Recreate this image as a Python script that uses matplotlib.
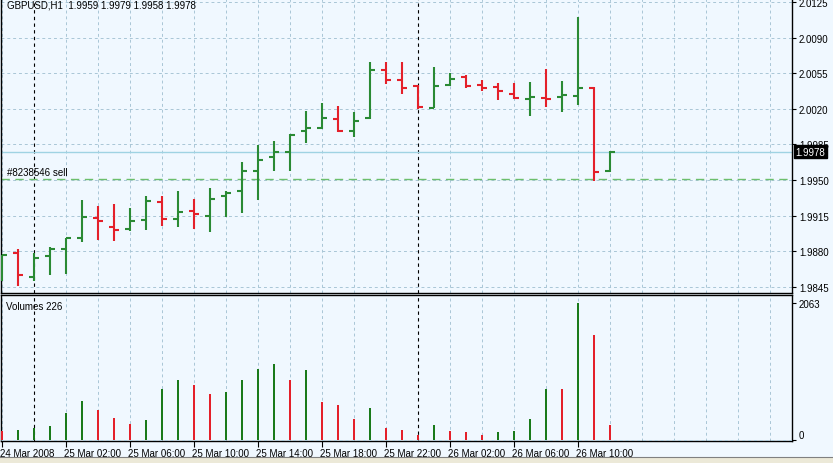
import matplotlib
matplotlib.use("Agg")
import matplotlib.pyplot as plt
import matplotlib.transforms as mtransforms

# GBPUSD H1 bars, 24 Mar 22:00 .. 26 Mar 12:00
opens = [1.9858, 1.9878, 1.9855, 1.9875, 1.9882, 1.9893, 1.9913, 1.9904, 1.9902, 1.9911,
         1.9928, 1.9912, 1.9920, 1.9915, 1.9934, 1.9939, 1.9959, 1.9973, 1.9978, 1.9998,
         2.0001, 2.0010, 1.9998, 2.0011, 2.0058, 2.0048, 2.0042, 2.0021, 2.0043, 2.0051,
         2.0043, 2.0041, 2.0035, 2.0030, 2.0031, 2.0032, 2.0033, 2.0040, 1.9959]
highs = [1.9876, 1.9882, 1.9878, 1.9884, 1.9893, 1.9930, 1.9925, 1.9927, 1.9923, 1.9934,
         1.9934, 1.9939, 1.9931, 1.9942, 1.9939, 1.9968, 1.9984, 1.9988, 1.9995, 2.0018,
         2.0026, 2.0023, 2.0017, 2.0066, 2.0066, 2.0066, 2.0043, 2.0061, 2.0055, 2.0053,
         2.0048, 2.0045, 2.0045, 2.0046, 2.0059, 2.0047, 2.0110, 2.0041, 1.9979]
lows = [1.9851, 1.9846, 1.9851, 1.9857, 1.9858, 1.9889, 1.9891, 1.9890, 1.9900, 1.9901,
        1.9905, 1.9904, 1.9902, 1.9899, 1.9914, 1.9918, 1.9930, 1.9959, 1.9959, 1.9986,
        2.0000, 1.9997, 1.9992, 2.0010, 2.0044, 2.0035, 2.0020, 2.0021, 2.0042, 2.0040,
        2.0038, 2.0029, 2.0030, 2.0013, 2.0022, 2.0017, 2.0024, 1.9949, 1.9958]
closes = [1.9876, 1.9857, 1.9873, 1.9882, 1.9893, 1.9914, 1.9910, 1.9901, 1.9910, 1.9929,
          1.9912, 1.9919, 1.9917, 1.9931, 1.9937, 1.9959, 1.9970, 1.9978, 1.9994, 2.0001,
          2.0011, 1.9998, 2.0008, 2.0058, 2.0048, 2.0040, 2.0022, 2.0042, 2.0049, 2.0042,
          2.0040, 2.0038, 2.0031, 2.0032, 2.0030, 2.0034, 2.0040, 1.9958, 1.9978]
volumes = [141, 156, 191, 216, 407, 587, 457, 336, 246, 301, 773, 909, 833, 693, 728, 910,
           1069, 1145, 909, 1059, 577, 532, 321, 487, 186, 156, 80, 231, 141, 126, 80, 126,
           141, 316, 773, 770, 2063, 1586, 226]

price_levels = [2.0125, 2.0090, 2.0055, 2.0020, 1.9985, 1.9950, 1.9915, 1.9880, 1.9845]
price_labels = ["2.0125", "2.0090", "2.0055", "2.0020", "1.9985", "1.9950", "1.9915", "1.9880", "1.9845"]
time_ticks = [0, 4, 8, 12, 16, 20, 24, 28, 32, 36]
time_labels = ["24 Mar 2008", "25 Mar 02:00", "25 Mar 06:00", "25 Mar 10:00", "25 Mar 14:00",
               "25 Mar 18:00", "25 Mar 22:00", "26 Mar 02:00", "26 Mar 06:00", "26 Mar 10:00"]
day_breaks = [2, 26]
bid = 1.9978
order_price = 1.9951
order_label = "#8238546 sell"
title = "GBPUSD,H1  1.9959 1.9979 1.9958 1.9978"

BG = "#f0f8ff"
GRID = "#a9c6d6"
UP = "#2a8a34"
DOWN = "#e4202a"
VUP = "#1a7a1a"

plt.rcParams['font.family'] = ['Liberation Sans', 'DejaVu Sans']

W, H = 833, 464
fig = plt.figure(figsize=(W / 100, H / 100), dpi=100, facecolor=BG)

ax1 = fig.add_axes([1 / W, 170 / H, 791 / W, 294 / H], facecolor=BG)
ax2 = fig.add_axes([1 / W, 22 / H, 791 / W, 146 / H], facecolor=BG)

xmin, xmax = -0.0625, 49.375
n = len(opens)

for ax in (ax1, ax2):
    ax.set_xlim(xmin, xmax)
    for g in range(0, 50, 2):
        if g in day_breaks:
            continue
        ax.axvline(g, color=GRID, lw=0.7, ls=(0, (3, 3)), zorder=0)
    for d in day_breaks:
        ax.axvline(d, color="black", lw=0.8, ls=(0, (3, 3)), zorder=1)
    ax.yaxis.tick_right()
    ax.tick_params(axis='y', labelsize=7, length=3, pad=2, colors='black')
    for s in ax.spines.values():
        s.set_color("black")
        s.set_linewidth(1)

# price pane
ax1.set_ylim(1.98391, 2.01279)
for p in price_levels:
    ax1.axhline(p, color=GRID, lw=0.7, ls=(0, (3, 3)), zorder=0)
ax1.set_yticks(price_levels)
ax1.set_yticklabels(price_labels)
ax1.set_xticks([])
ax1.spines['top'].set_visible(False)

ax1.axhline(bid, color="#9fd3e3", lw=1, zorder=1)
ax1.axhline(order_price, color="#6cbf6c", lw=1, ls=(0, (6, 4)), zorder=1)

for i in range(n):
    c = UP if closes[i] >= opens[i] else DOWN
    ax1.vlines(i, lows[i], highs[i], color=c, lw=1.5, zorder=3)
    ax1.hlines(opens[i], i - 0.33, i, color=c, lw=1.5, zorder=3)
    ax1.hlines(closes[i], i, i + 0.33, color=c, lw=1.5, zorder=3)

trans = mtransforms.blended_transform_factory(ax1.transAxes, ax1.transData)
ax1.text(1.0045, bid, f"{bid:.4f}", transform=trans, fontsize=7, color="white",
         va="center", ha="left", zorder=10, clip_on=False,
         bbox=dict(boxstyle="square,pad=0.15", fc="black", ec="black"))

fig.text(7 / W, 1 - 6 / H, title, fontsize=7, va="center", ha="left")
fig.text(7 / W, 1 - 173 / H, order_label, fontsize=7, va="center", ha="left")

# volume pane
ax2.set_ylim(-8, 2183)
vcolors = [DOWN]
for i in range(1, n):
    vcolors.append(VUP if volumes[i] > volumes[i - 1] else DOWN)
ax2.bar(range(n), volumes, width=0.17, color=vcolors, zorder=3)
ax2.axhline(0, color=GRID, lw=0.7, ls=(0, (3, 3)), zorder=4)
ax2.set_yticks([0, max(volumes)])
ax2.set_yticklabels(["0", str(max(volumes))])
ax2.yaxis.get_major_ticks()[0].label2.set_va("bottom")
ax2.set_xticks(time_ticks)
ax2.set_xticklabels(time_labels, ha="left")
ax2.tick_params(axis='x', labelsize=7, length=4, pad=1, colors='black')
for lbl in ax2.get_xticklabels():
    lbl.set_transform(lbl.get_transform() + mtransforms.Affine2D().translate(-2, 0))

fig.text(6 / W, 1 - 307 / H, f"Volumes {volumes[-1]}", fontsize=7, va="center", ha="left")

# bottom window tabs strip
fig.patches.append(plt.Rectangle((0, 0), 1, 6 / H, transform=fig.transFigure,
                                 fc="#ece9d8", ec="none"))
fig.lines.append(plt.Line2D([0, 1], [6 / H, 6 / H], transform=fig.transFigure,
                            color="#808080", lw=0.8))

fig.savefig("out.png", dpi=100, facecolor=BG)
